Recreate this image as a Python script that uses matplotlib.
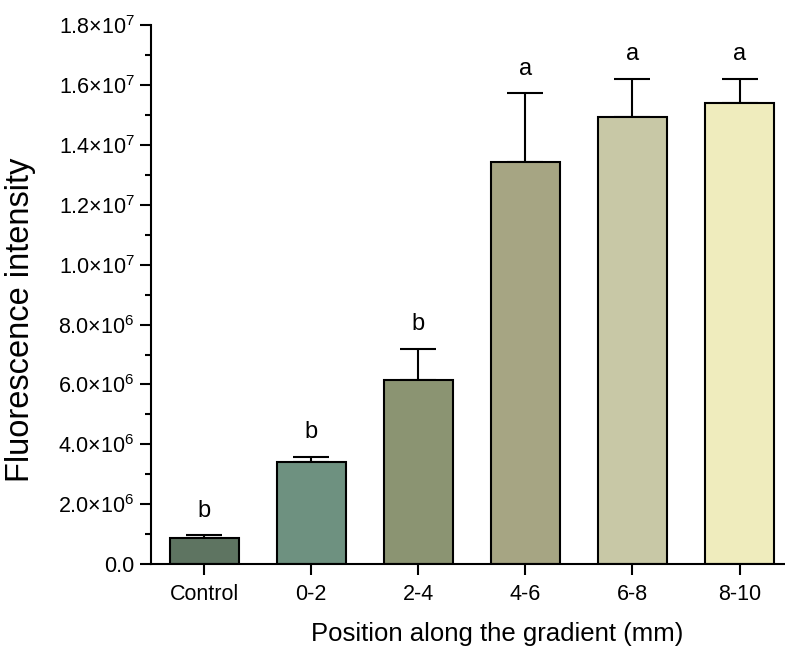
import numpy as np
import matplotlib.pyplot as plt
from matplotlib.ticker import MultipleLocator, FuncFormatter

plt.rcParams['font.family'] = ['Liberation Sans', 'DejaVu Sans']
plt.rcParams['mathtext.default'] = 'regular'

positions = ['Control', '0-2', '2-4', '4-6', '6-8', '8-10']
means = [0.86e6, 3.40e6, 6.15e6, 13.43e6, 14.94e6, 15.41e6]
errors = [0.10e6, 0.18e6, 1.05e6, 2.30e6, 1.27e6, 0.80e6]
letters = ['b', 'b', 'b', 'a', 'a', 'a']
colors = ['#5e7461', '#6e9180', '#8b9472', '#a6a583', '#c8c8a6', '#efecbd']

fig = plt.figure(figsize=(7.85, 6.5), dpi=100)
ax = fig.add_axes([0.192, 0.132, 0.808, 0.8295])

x = np.arange(len(positions))
ax.bar(x, means, width=0.64, color=colors, edgecolor='black', linewidth=1.5, zorder=2)
ax.errorbar(x, means, yerr=[np.zeros(len(x)), errors], fmt='none', ecolor='black',
            elinewidth=1.5, capsize=13, capthick=1.5, zorder=1)

for xi, m, e, t in zip(x, means, errors, letters):
    ax.text(xi, m + e + 0.45e6, t, ha='center', va='bottom', fontsize=17)

ax.set_xlim(-0.5, 5.425)
ax.set_ylim(0, 1.8e7)
ax.set_xticks(x)
ax.set_xticklabels(positions)

ax.yaxis.set_major_locator(MultipleLocator(2e6))
ax.yaxis.set_minor_locator(MultipleLocator(1e6))

def fmt(v, pos):
    if v == 0:
        return '0.0'
    e = int(np.floor(np.log10(abs(v)) + 1e-9))
    return f'{v / 10**e:.1f}×10$^{{{e}}}$'

ax.yaxis.set_major_formatter(FuncFormatter(fmt))

for s in ['top', 'right']:
    ax.spines[s].set_visible(False)
for s in ['left', 'bottom']:
    ax.spines[s].set_linewidth(1.5)

ax.tick_params(axis='both', which='major', direction='out', length=8, width=1.5, labelsize=15.5)
ax.tick_params(axis='y', which='minor', direction='out', length=4, width=1.5)
ax.tick_params(axis='x', pad=6)

fig.text(21 / 785, 1 - 320 / 650, 'Fluorescence intensity', fontsize=23.5,
         rotation=90, ha='center', va='center')
fig.text(497 / 785, 1 - 634 / 650, 'Position along the gradient (mm)', fontsize=18.5,
         ha='center', va='center')

plt.savefig('out.png', dpi=100)
